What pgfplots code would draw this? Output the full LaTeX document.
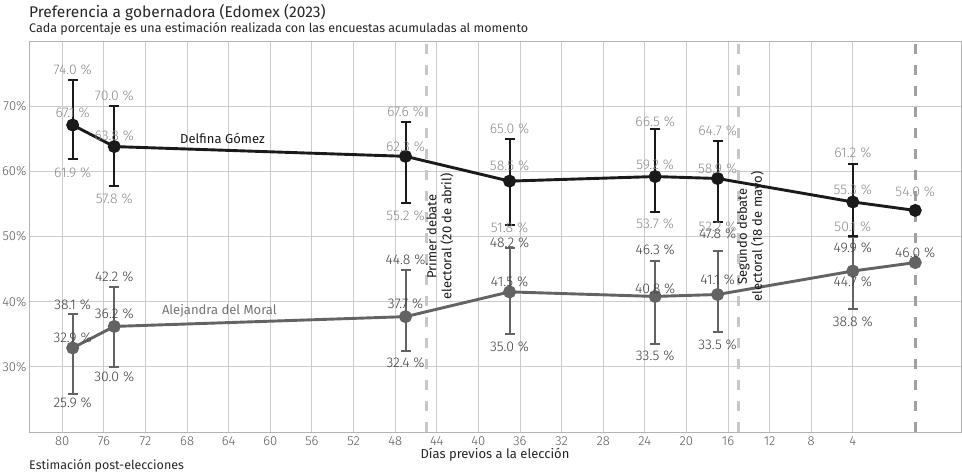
\documentclass[border=0pt]{standalone}
\usepackage{pgfplots}
\pgfplotsset{compat=1.18}
\usepackage{pgfplotstable}
\usepackage{fontspec}
\setmainfont{Fira Sans}
\newfontfamily\lightfont{Fira Sans Light}

\definecolor{delfina}{HTML}{1A1A1A}
\definecolor{alejandra}{HTML}{636363}
\definecolor{dlab}{HTML}{8C8C8C}
\definecolor{alab}{HTML}{3F3F3F}
\definecolor{gridc}{HTML}{CCCCCC}
\definecolor{framec}{HTML}{B3B3B3}
\definecolor{debate}{HTML}{C8C8C8}
\definecolor{eleccion}{HTML}{A0A0A0}

% x = dias previos a la eleccion, y = estimacion, lo/hi = intervalo
\pgfplotstableread{
x  y    lo   hi
79 67.1 61.9 74.0
75 63.8 57.8 70.0
47 62.3 55.2 67.6
37 58.5 51.8 65.0
23 59.2 53.7 66.5
17 58.9 52.2 64.7
4  55.3 50.1 61.2
-2 54.0 54.0 54.0
}\delfina

\pgfplotstableread{
x  y    lo   hi
79 32.9 25.9 38.1
75 36.2 30.0 42.2
47 37.7 32.4 44.8
37 41.5 35.0 48.2
23 40.8 33.5 46.3
17 41.1 35.4 47.8
4  44.7 38.8 49.9
-2 46.0 46.0 46.0
}\alejandra

% etiquetas: x, altura de la etiqueta, valor
\pgfplotstableread{
x  ly    v
79 75.57 74.0
79 68.93 67.1
79 59.74 61.9
75 71.53 70.0
75 65.5  63.8
75 55.8  57.8
47 69.1  67.6
47 63.7  62.3
47 53.26 55.2
37 66.5  65.0
37 60.9  58.5
37 51.3  51.8
23 67.66 66.5
23 61.07 59.2
23 51.9  53.7
17 66.3  64.7
17 60.4  58.9
17 51.47 52.2
4  62.86 61.2
4  57.2  55.3
4  51.47 50.1
-2 56.8  54.0
}\delfinalab

\pgfplotstableread{
x  ly    v
79 39.6  38.1
79 34.4  32.9
79 24.45 25.9
75 43.8  42.2
75 38.1  36.2
75 28.45 30.0
47 46.4  44.8
47 39.63 37.7
47 30.55 32.4
37 49.0  48.2
37 43.05 41.5
37 33.1  35.0
23 48.0  46.3
23 42.04 40.8
23 31.7  33.5
17 50.35 47.8
17 43.3  41.1
17 33.46 33.5
4  48.2  49.9
4  43.0  44.7
4  36.9  38.8
-2 47.55 46.0
}\alejandralab

\begin{document}
\begin{tikzpicture}
\path[use as bounding box] (-29pt,-41pt) rectangle (933pt,432pt);
\begin{axis}[
    scale only axis, width=932pt, height=391pt,
    x dir=reverse, xmin=-6.4, xmax=83.2, ymin=20, ymax=80,
    xtick={4,8,...,80}, ytick={30,40,...,70},
    yticklabel={\pgfmathprintnumber{\tick}\%},
    /pgf/number format/assume math mode=true,
    ticklabel style={font=\lightfont\fontsize{13}{15}\selectfont, text=black!65},
    xticklabel style={yshift=-1pt},
    yticklabel style={xshift=1pt},
    major tick length=0pt,
    grid=major, major grid style={gridc, line width=0.9pt},
    axis line style={framec, line width=0.9pt},
    xlabel={Días previos a la elección},
    xlabel style={font=\fontsize{13}{15}\selectfont, text=black!85, yshift=4pt},
    clip=false,
]
% lineas de los debates y de la eleccion
\addplot[forget plot, debate, line width=3pt, dash pattern=on 10pt off 11pt] coordinates {(45,20) (45,80)};
\addplot[forget plot, debate, line width=3pt, dash pattern=on 10pt off 11pt] coordinates {(15,20) (15,80)};
\addplot[forget plot, eleccion, line width=3pt, dash pattern=on 10pt off 11pt] coordinates {(-2,20) (-2,80)};

% Alejandra del Moral
\addplot[forget plot, only marks, mark=none, restrict x to domain=0:100,
    error bars/.cd, y dir=both, y explicit,
    error bar style={alejandra, line width=2pt},
    error mark options={alejandra, rotate=90, mark size=5pt, line width=2pt}]
    table[x=x, y=y, y error plus expr=\thisrow{hi}-\thisrow{y}, y error minus expr=\thisrow{y}-\thisrow{lo}] {\alejandra};
\addplot[alejandra, line width=2.9pt, mark=*, mark size=5pt] table[x=x, y=y] {\alejandra};

% Delfina Gomez
\addplot[forget plot, only marks, mark=none, restrict x to domain=0:100,
    error bars/.cd, y dir=both, y explicit,
    error bar style={delfina, line width=2pt},
    error mark options={delfina, rotate=90, mark size=5pt, line width=2pt}]
    table[x=x, y=y, y error plus expr=\thisrow{hi}-\thisrow{y}, y error minus expr=\thisrow{y}-\thisrow{lo}] {\delfina};
\addplot[delfina, line width=2.9pt, mark=*, mark size=5pt] table[x=x, y=y] {\delfina};

% etiquetas de los valores
\addplot[only marks, mark=none, point meta=explicit,
    nodes near coords={\pgfmathprintnumber[fixed, fixed zerofill, precision=1]{\pgfplotspointmeta}~\%},
    nodes near coords style={anchor=center, text=alab, font=\lightfont\fontsize{14}{16}\selectfont}]
    table[x=x, y=ly, meta=v] {\alejandralab};
\addplot[only marks, mark=none, point meta=explicit,
    nodes near coords={\pgfmathprintnumber[fixed, fixed zerofill, precision=1]{\pgfplotspointmeta}~\%},
    nodes near coords style={anchor=center, text=dlab, font=\lightfont\fontsize{14}{16}\selectfont}]
    table[x=x, y=ly, meta=v] {\delfinalab};

\node[text=delfina, font=\fontsize{13}{15}\selectfont] at (axis cs:64.6,65.0) {Delfina Gómez};
\node[text=black!55, font=\fontsize{13}{15}\selectfont] at (axis cs:64.9,38.56) {Alejandra del Moral};
\node[rotate=90, align=center, text=delfina, font=\fontsize{13}{15}\selectfont] at (axis cs:43.7,50) {Primer debate\\electoral (20 de abril)};
\node[rotate=90, align=center, text=delfina, font=\fontsize{13}{15}\selectfont] at (axis cs:13.8,50) {Segundo debate\\electoral (18 de mayo)};

\node[anchor=base west, inner sep=0pt, text=black!85, font=\fontsize{15.5}{18}\selectfont] at (rel axis cs:0,1) [yshift=23.7pt] {Preferencia a gobernadora (Edomex (2023)};
\node[anchor=base west, inner sep=0pt, text=black!85, font=\fontsize{12.5}{15}\selectfont] at (rel axis cs:0,1) [yshift=8.7pt] {Cada porcentaje es una estimación realizada con las encuestas acumuladas al momento};
\node[anchor=base west, inner sep=0pt, text=black!85, font=\fontsize{12.5}{15}\selectfont] at (rel axis cs:0,0) [yshift=-38pt] {Estimación post-elecciones};
\end{axis}
\end{tikzpicture}
\end{document}
